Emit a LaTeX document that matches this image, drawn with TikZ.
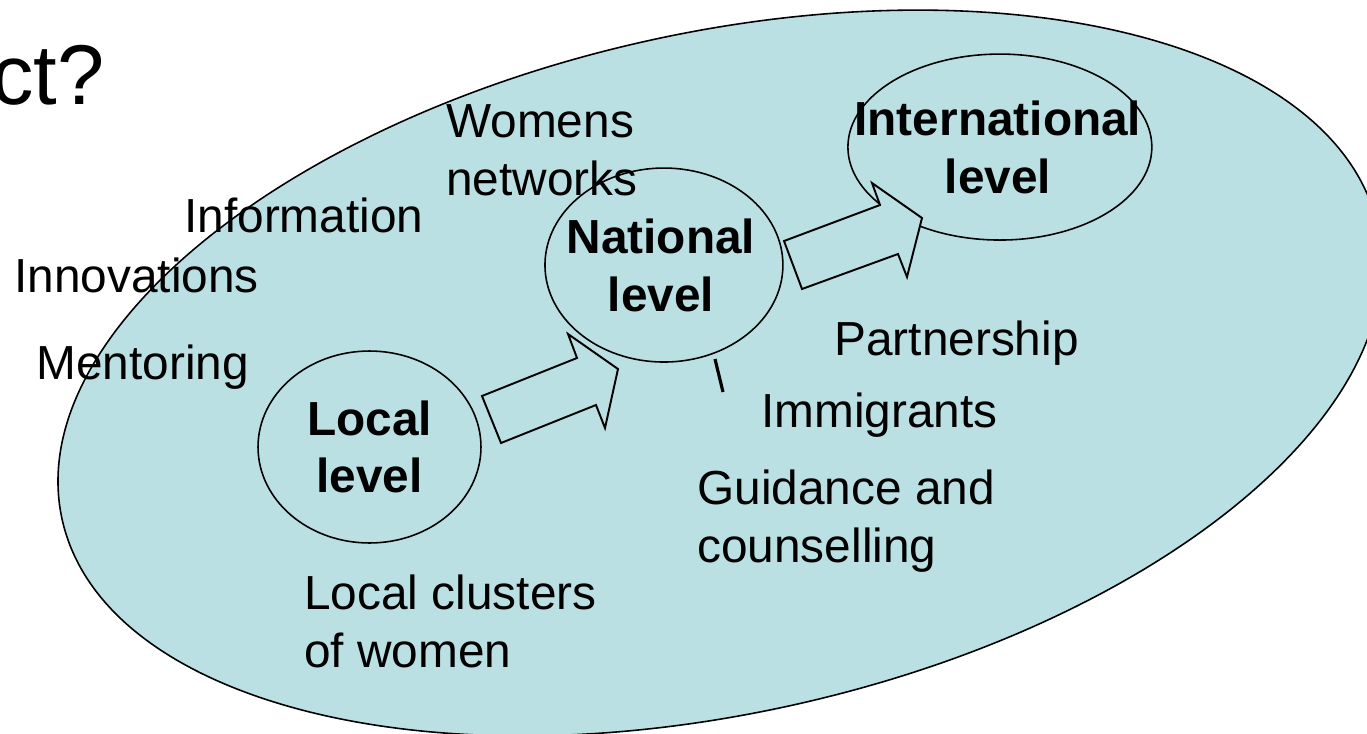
\documentclass[tikz,border=0pt]{standalone}
\usepackage{fontspec}
\setmainfont{Liberation Sans}
\usetikzlibrary{shapes.geometric, positioning}
\definecolor{paleteal}{RGB}{187,224,227}
\tikzset{
  x=0.02cm, y=-0.02cm, % one unit is one pixel of the slide, y runs down
  every node/.style={inner sep=0pt, font=\fontsize{27.2}{32.9}\selectfont}, % slide text size
  levelshape/.style={ellipse, draw, fill=paleteal, line width=0.9pt}, % the level circles
  levelname/.style={align=center, font=\fontsize{27.2}{32.9}\selectfont\bfseries},
  topic/.style={align=left, anchor=base west}, % loose words round the levels, base = last line
  blockarrow/.style={draw, fill=paleteal, line width=1.1pt, line join=miter},
}

\begin{document}
\begin{tikzpicture}
  \useasboundingbox (0,0) rectangle (1367,734);

  % the big area round everything
  \draw[fill=paleteal, line width=0.9pt, rotate around={12.57:(720,373)}]
    (720,373) ellipse [x radius=674, y radius=340];

  \node[anchor=base west, font=\fontsize{48.3}{58}\selectfont] (title) at (-9,104) {ct?};

  \node[levelshape, minimum width=4.46cm, minimum height=3.84cm] (local) at (369.5,447) {};
  \node[levelshape, minimum width=4.76cm, minimum height=3.88cm,
    on grid, above right=3.64cm and 5.89cm of local] (national) {};
  \node[levelshape, minimum width=6.08cm, minimum height=3.72cm,
    on grid, above right=2.36cm and 6.72cm of national] (international) {};

  % block arrows from level to level
  \draw[blockarrow] (482,396) -- (577,358) -- (568,334) -- (618,369)
    -- (605,428) -- (596,405) -- (501,443) -- cycle;
  \draw[blockarrow] (784,241) -- (880,205) -- (872,183) -- (922,218)
    -- (907,277) -- (898,254) -- (802,289) -- cycle;

  \node[levelname] (localtxt) at (local) {Local\\level};
  \node[levelname] (nationaltxt) at ([xshift=-0.06cm]national) {National\\level};
  \node[levelname] (internationaltxt) at ([xshift=-0.04cm]international) {International\\level};

  \node[topic] (womens) at (446,195) {Womens\\networks};
  \node[topic] (information) at (184,232) {Information};
  \node[topic] (innovations) at (14,292) {Innovations};
  \node[topic] (mentoring) at (36,379) {Mentoring};
  \node[topic] (partnership) at (834,355) {Partnership};
  \node[topic] (immigrants) at (761,427) {Immigrants};
  \node[topic] (guidance) at (697,562) {Guidance and\\counselling};
  \node[topic] (clusters) at (304,667) {Local clusters\\of women};

  \draw[line width=1.8pt] (715,359) -- (723,392);

\end{tikzpicture}
\end{document}
